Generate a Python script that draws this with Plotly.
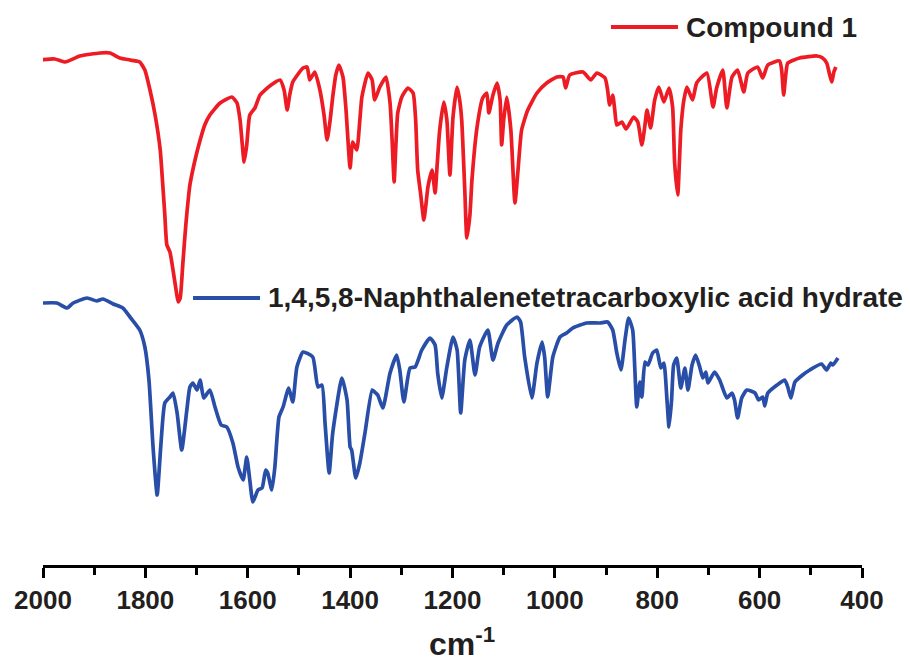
import plotly.graph_objects as go

# ---------------- data ----------------
compound1_wn = [2006,1977,1957,1928,1889,1869,1850,1830,1811,1801,
                1791,1781,1771,1766,1762,1758,1752,1746,1740,1736,
                1732,1727,1721,1713,1703,1693,1684,1674,1654,1631,
                1621,1615,1607,1602,1596,1586,1576,1557,1537,1529,
                1523,1518,1512,1492,1484,1479,1469,1459,1451,1445,
                1439,1434,1428,1422,1414,1408,1400,1395,1387,1381,
                1377,1365,1357,1352,1342,1330,1322,1318,1314,1311,
                1307,1299,1287,1277,1272,1268,1262,1256,1252,1248,
                1240,1234,1230,1225,1217,1211,1205,1199,1191,1186,
                1182,1176,1172,1166,1162,1152,1141,1133,1129,1121,
                1113,1107,1104,1100,1094,1086,1078,1072,1065,1053,
                1035,1016,996,984,979,971,945,930,918,902,
                897,893,887,883,879,869,861,846,838,830,
                824,820,813,805,797,787,777,770,766,760,
                754,748,742,731,723,703,691,684,672,664,
                654,643,631,623,604,594,584,561,557,553,
                549,545,522,488,477,469,463,459,455,451]
compound1_T = [508,509,506,512,515,515,510,508,506,498,
               478,453,418,383,353,323,316,298,278,266,
               270,303,343,383,408,428,443,453,465,471,
               465,448,406,423,453,460,473,482,488,478,
               458,473,486,500,501,488,496,478,453,428,
               448,471,493,503,491,458,400,426,418,448,
               471,495,488,468,481,491,465,428,386,418,
               455,471,480,475,448,398,373,348,363,381,
               398,375,403,438,466,448,393,451,481,468,
               448,378,330,353,388,441,470,475,455,473,
               485,468,423,448,471,438,365,398,438,458,
               475,485,491,491,480,493,496,488,495,490,
               478,463,473,458,443,446,439,451,446,423,
               443,458,440,468,481,466,480,461,405,373,
               438,468,481,468,485,495,461,480,498,460,
               491,498,476,495,501,490,503,507,498,473,
               493,505,510,512,510,505,493,486,496,501]

ntca_wn = [2000,1973,1953,1941,1914,1895,1883,1863,1844,1830,
           1811,1801,1793,1785,1777,1770,1762,1752,1746,1738,
           1729,1719,1713,1707,1699,1693,1686,1674,1664,1652,
           1641,1629,1619,1609,1602,1596,1590,1580,1572,1565,
           1561,1553,1547,1539,1531,1520,1512,1504,1492,1473,
           1463,1455,1449,1441,1434,1416,1406,1400,1397,1389,
           1381,1371,1357,1352,1346,1336,1322,1309,1303,1295,
           1283,1273,1260,1244,1234,1229,1221,1211,1199,1191,
           1184,1176,1166,1156,1147,1131,1121,1111,1094,1074,
           1067,1059,1045,1035,1025,1020,1014,1004,990,977,
           965,938,912,897,887,879,871,863,856,848,
           844,840,834,830,824,818,809,801,793,787,
           781,777,772,768,762,754,746,740,732,725,
           717,711,705,701,688,678,664,654,649,643,
           635,625,609,602,594,590,584,566,551,545,
           539,531,516,502,479,469,461,457,447]
ntca_T = [265,265,260,265,270,267,269,264,260,251,
          238,221,188,121,73,121,165,171,175,155,
          118,158,181,185,178,188,170,178,161,143,
          141,125,101,88,111,88,66,78,80,98,
          95,78,101,151,161,180,166,201,216,211,
          181,183,145,95,135,190,168,121,118,90,
          105,135,178,176,173,160,195,213,198,166,
          200,201,218,230,223,195,170,201,231,218,
          155,208,228,193,221,238,208,225,243,251,
          246,211,170,205,226,211,171,211,231,235,
          240,245,245,246,238,215,198,228,250,238,
          201,161,186,171,206,203,215,218,200,205,
          168,141,168,203,210,180,200,178,203,213,
          201,190,196,185,196,188,170,175,168,150,
          170,178,175,168,171,162,175,183,188,181,
          170,186,193,198,204,198,205,203,210]

series_names = ["Compound 1", "1,4,5,8-Naphthalenetetracarboxylic acid hydrate"]
tick_values = [2000, 1800, 1600, 1400, 1200, 1000, 800, 600, 400]
tick_labels = ["2000", "1800", "1600", "1400", "1200", "1000", "800", "600", "400"]
axis_title = "cm<sup>-1</sup>"

assert len(compound1_wn) == len(compound1_T)
assert len(ntca_wn) == len(ntca_T)

RED = "#ED1C24"
BLUE = "#284EA8"
TXT = "#231F20"
FONT = "Liberation Sans"

fig = go.Figure()
fig.add_trace(go.Scatter(x=compound1_wn, y=compound1_T, mode="lines",
                         line=dict(color=RED, width=3.7, shape="spline", smoothing=0.5),
                         name=series_names[0], showlegend=False))
fig.add_trace(go.Scatter(x=ntca_wn, y=ntca_T, mode="lines",
                         line=dict(color=BLUE, width=3.7, shape="spline", smoothing=0.5),
                         name=series_names[1], showlegend=False))

# legend-like labels (line sample + bold text), positioned in paper coords
legend_items = [
    dict(x0=0.6935, x1=0.7753, y=0.9522, tx=0.7825, color=RED, text=series_names[0]),
    dict(x0=0.1832, x1=0.2650, y=0.4726, tx=0.2725, color=BLUE, text=series_names[1]),
]
for it in legend_items:
    fig.add_shape(type="line", xref="paper", yref="paper",
                  x0=it["x0"], x1=it["x1"], y0=it["y"], y1=it["y"],
                  line=dict(color=it["color"], width=4))
    fig.add_annotation(xref="paper", yref="paper", x=it["tx"], y=it["y"],
                       xanchor="left", yanchor="middle", showarrow=False,
                       text=it["text"],
                       font=dict(family=FONT, size=28, color=TXT, weight="bold"))

# x-axis title
fig.add_annotation(xref="paper", yref="paper", x=0.512, y=-0.175,
                   xanchor="center", yanchor="bottom", showarrow=False,
                   text=axis_title,
                   font=dict(family=FONT, size=32, color=TXT, weight="bold"))

fig.update_layout(
    width=910, height=664,
    margin=dict(l=43, r=48, t=0, b=99),
    paper_bgcolor="white", plot_bgcolor="white",
    xaxis=dict(range=[2000, 400], showgrid=False, zeroline=False,
               showline=True, linecolor="black", linewidth=3,
               ticks="outside", ticklen=10, tickwidth=3, tickcolor="black",
               tickvals=tick_values, ticktext=tick_labels,
               tickfont=dict(family=FONT, size=26, color=TXT, weight="bold"),
               minor=dict(dtick=100, tick0=0, ticks="outside", ticklen=7,
                          tickwidth=3, tickcolor="black", showgrid=False)),
    yaxis=dict(range=[3, 568], visible=False, showgrid=False, zeroline=False),
)

fig.write_html("out.html", config={"displayModeBar": False},
               post_script="document.body.style.margin='0px';")
